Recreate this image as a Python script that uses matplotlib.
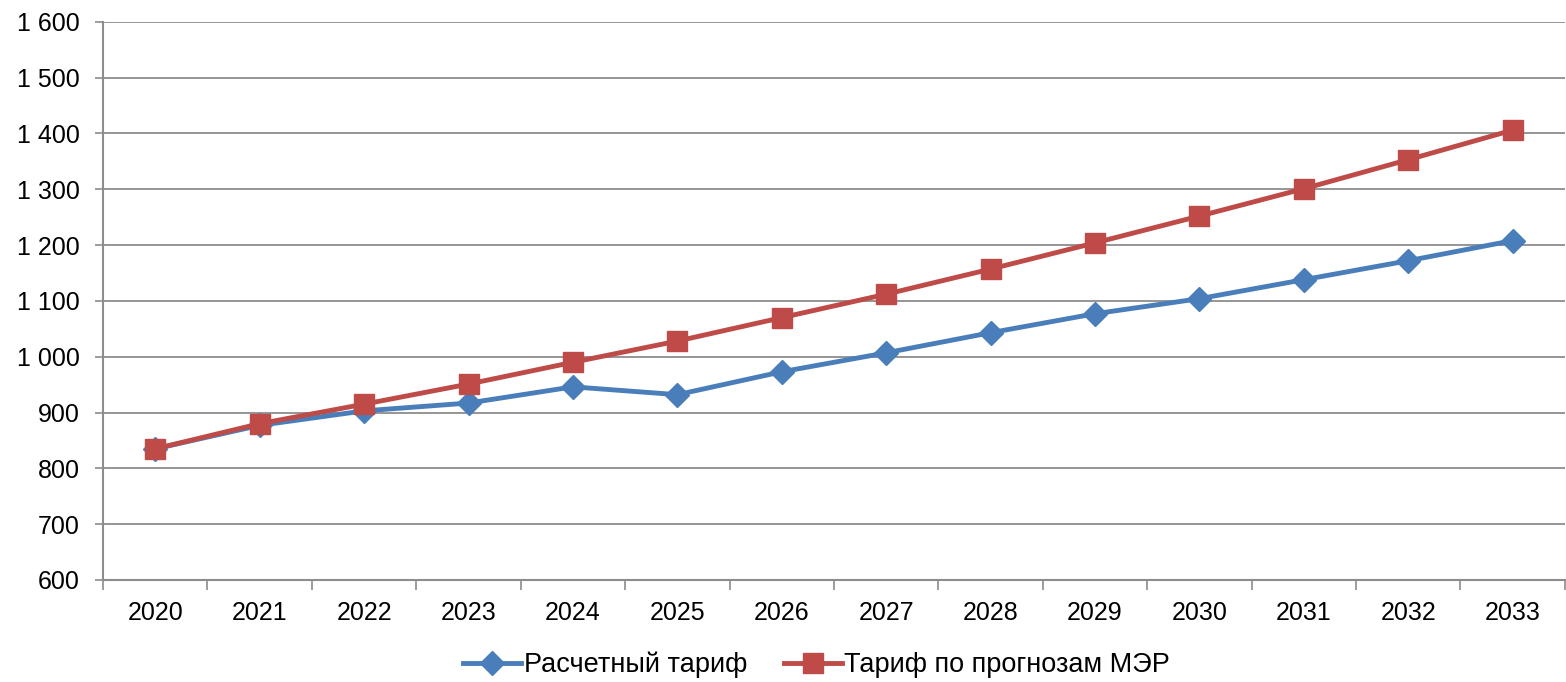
import matplotlib.pyplot as plt
from matplotlib.ticker import FuncFormatter, MultipleLocator, FixedLocator

plt.rcParams['font.family'] = ['Liberation Sans', 'DejaVu Sans']

years = ["2020", "2021", "2022", "2023", "2024", "2025", "2026",
         "2027", "2028", "2029", "2030", "2031", "2032", "2033"]
calc_tariff = [835, 877, 903, 917, 946, 932, 973, 1007, 1043, 1077, 1104, 1138, 1172, 1208]
mer_tariff = [835, 880, 915, 951, 990, 1028, 1070, 1112, 1157, 1204, 1252, 1301, 1353, 1406]

fig = plt.figure(figsize=(15.66, 6.82), dpi=100)
ax = fig.add_axes([0.0658, 0.1496, 0.9335, 0.8184])

x = list(range(len(years)))
ax.plot(x, calc_tariff, color="#4a7ebb", lw=3.5, marker="D", ms=12,
        label="Расчетный тариф", zorder=3)
ax.plot(x, mer_tariff, color="#be4b48", lw=3.5, marker="s", ms=14,
        label="Тариф по прогнозам МЭР", zorder=4)

ax.set_xlim(-0.5, len(years) - 0.5)
ax.set_ylim(600, 1600)
ax.yaxis.set_major_locator(MultipleLocator(100))
ax.yaxis.set_major_formatter(FuncFormatter(lambda v, p: f"{int(v):,}".replace(",", " ")))
ax.set_xticks(x)
ax.set_xticklabels(years)
ax.xaxis.set_minor_locator(FixedLocator([i + 0.5 for i in range(-1, len(years))]))

ax.grid(axis="y", color="#8c8c8c", lw=1.3)
ax.set_axisbelow(True)
for s in ["top", "right"]:
    ax.spines[s].set_visible(False)
for s in ["left", "bottom"]:
    ax.spines[s].set_color("#8c8c8c")
    ax.spines[s].set_linewidth(1.5)

ax.tick_params(axis="y", length=6, width=1.2, color="#8c8c8c", labelsize=18, pad=11)
ax.tick_params(axis="x", which="major", length=0, labelsize=18, pad=15)
ax.tick_params(axis="x", which="minor", length=7, width=1.2, color="#8c8c8c")

ax.legend(loc="center", bbox_to_anchor=(0.488, -0.152), ncol=2, frameon=False,
          fontsize=19.5, handlelength=2.15, columnspacing=1.35, handletextpad=0.08)

fig.savefig("out.png", dpi=100)
